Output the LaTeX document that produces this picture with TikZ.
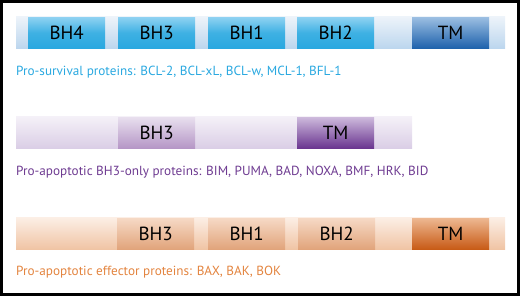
\documentclass[tikz,border=0pt]{standalone}
\usepackage{fontspec}
\setmainfont{PT Sans}
\definecolor{survblue}{HTML}{29A8E0}
\definecolor{survlight}{HTML}{8FD2F2}
\definecolor{barblue}{HTML}{BCD6EE}
\definecolor{barbluetop}{HTML}{EEF4FA}
\definecolor{tmblue}{HTML}{1E62AC}
\definecolor{tmbluetop}{HTML}{9BBEE2}
\definecolor{bh3purple}{HTML}{6E3B91}
\definecolor{barpurple}{HTML}{DACEE6}
\definecolor{barpurpletop}{HTML}{F5F1F8}
\definecolor{dompurple}{HTML}{B596C6}
\definecolor{dompurpletop}{HTML}{E8DFEE}
\definecolor{tmpurple}{HTML}{6A3590}
\definecolor{tmpurpletop}{HTML}{CDB9DC}
\definecolor{efforange}{HTML}{E3843F}
\definecolor{barorange}{HTML}{F0C4A4}
\definecolor{barorangetop}{HTML}{FCEFE6}
\definecolor{domorange}{HTML}{E1A47B}
\definecolor{domorangetop}{HTML}{F6D9C5}
\definecolor{tmorange}{HTML}{C85B16}
\definecolor{tmorangetop}{HTML}{EDB791}
\tikzset{
  protbar/.style={inner sep=0pt, minimum height=32pt, anchor=north west},
  dombox/.style={inner sep=0pt, minimum width=77pt, minimum height=31pt,
    anchor=north west, font=\fontsize{19}{21}\selectfont},
  famlabel/.style={anchor=west, inner sep=0pt, font=\fontsize{13.2}{15}\selectfont},
  bluedom/.style={dombox, top color=survlight, bottom color=survblue, middle color=survblue!90!white},
  bluetm/.style={dombox, top color=tmbluetop, bottom color=tmblue},
  purpledom/.style={dombox, top color=dompurpletop, bottom color=dompurple},
  purpletm/.style={dombox, top color=tmpurpletop, bottom color=tmpurple},
  orangedom/.style={dombox, top color=domorangetop, bottom color=domorange},
  orangetm/.style={dombox, top color=tmorangetop, bottom color=tmorange}
}
\begin{document}
\begin{tikzpicture}[x=1pt, y=-1pt]
  \useasboundingbox (0,0) rectangle (520,296);
  \draw[line width=3pt] (1.5,1.5) rectangle (518.5,294.5);
  % pro-survival
  \node[protbar, minimum width=489pt, top color=barbluetop, bottom color=barblue] (survbar) at (16,16) {};
  \node[bluedom] (survbh4) at (28,17) {BH4};
  \node[bluedom] (survbh3) at (118,17) {BH3};
  \node[bluedom] (survbh1) at (208,17) {BH1};
  \node[bluedom] (survbh2) at (297,17) {BH2};
  \node[bluetm] (survtm) at (412,17) {TM};
  \node[famlabel, text=survblue] (survlabel) at (16,72)
    {Pro-survival proteins: BCL-2, BCL-xL, BCL-w, MCL-1, BFL-1};
  % BH3-only
  \node[protbar, minimum width=396pt, top color=barpurpletop, bottom color=barpurple] (bhbar) at (16,116) {};
  \node[purpledom] (bhbh3) at (118,117) {BH3};
  \node[purpletm] (bhtm) at (297,117) {TM};
  \node[famlabel, text=bh3purple] (bhlabel) at (16,172)
    {Pro-apoptotic BH3-only proteins: BIM, PUMA, BAD, NOXA, BMF, HRK, BID};
  % effectors
  \node[protbar, minimum width=489pt, top color=barorangetop, bottom color=barorange] (effbar) at (16,217) {};
  \node[orangedom] (effbh3) at (117,218) {BH3};
  \node[orangedom] (effbh1) at (208,218) {BH1};
  \node[orangedom] (effbh2) at (298,218) {BH2};
  \node[orangetm] (efftm) at (412,218) {TM};
  \node[famlabel, text=efforange] (efflabel) at (16,272)
    {Pro-apoptotic effector proteins: BAX, BAK, BOK};
\end{tikzpicture}
\end{document}
